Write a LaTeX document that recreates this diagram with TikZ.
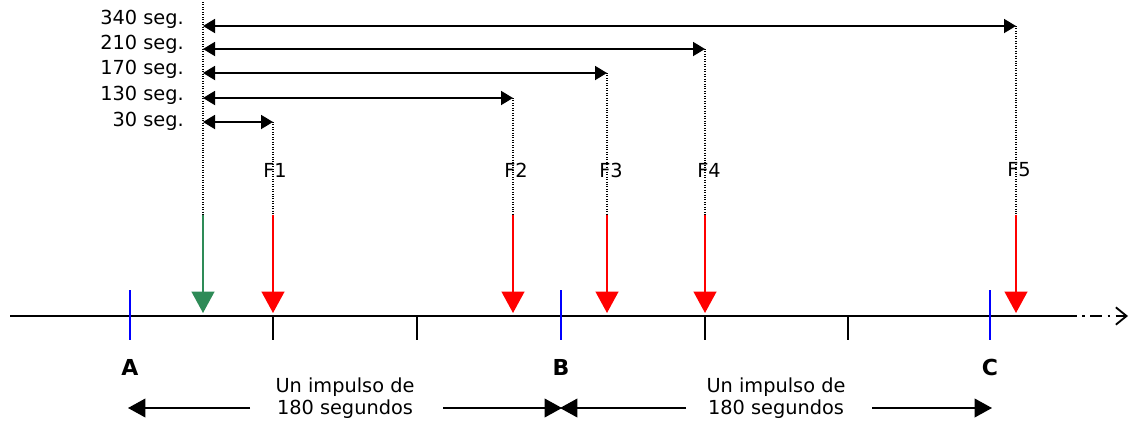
\documentclass[tikz,border=0pt]{standalone}
\usepackage{fontspec}
\setmainfont{DejaVu Sans}
\usetikzlibrary{arrows.meta}
\definecolor{fgreen}{RGB}{46,139,87}
\definecolor{fred}{RGB}{255,0,0}
\definecolor{fblue}{RGB}{0,0,255}
\begin{document}
\begin{tikzpicture}[x=0.75pt,y=-0.75pt,
  lbl/.style={font=\fontsize{14.5}{17}\selectfont, inner sep=0pt},
  seglbl/.style={lbl, anchor=east},
  big/.style={font=\fontsize{16.5}{18}\selectfont\bfseries, inner sep=0pt},
  dur/.style={black, line width=1.4pt, {Triangle[length=9pt,width=10.5pt]}-{Triangle[length=9pt,width=10.5pt]}},
  guide/.style={black, line width=0.9pt, dash pattern=on 0.75pt off 1.1pt},
  force/.style={line width=1.5pt, -{Triangle[length=16pt,width=17pt]}},
  axis/.style={black, line width=1.4pt},
  tick/.style={black, line width=1.4pt},
  btick/.style={fblue, line width=1.3pt},
  span/.style={black, line width=1.2pt, -{Triangle[length=13pt,width=14pt]}}
]
\useasboundingbox (0,0) rectangle (1129,425);

% reference columns
\coordinate (g0) at (203,2);
\coordinate (g1) at (203,215);
\coordinate (gt) at (203,313);
\foreach \n/\x/\y in {1/273/122, 2/513/98, 3/607/73, 4/705/49, 5/1016/26}{
  \coordinate (t\n) at (\x,\y);
  \coordinate (s\n) at (\x,215);
  \coordinate (e\n) at (\x,313);
  \coordinate (l\n) at (203,\y);
}

% dotted guides
\draw[guide] (g0) -- (g1);
\foreach \n in {1,...,5}{ \draw[guide] (t\n) -- (s\n); }

% duration arrows
\foreach \n in {1,...,5}{ \draw[dur] (l\n) -- (t\n); }

% duration labels
\node[seglbl] (d5) at (184,19) {340 seg.};
\node[seglbl] (d4) at (184,44) {210 seg.};
\node[seglbl] (d3) at (184,69) {170 seg.};
\node[seglbl] (d2) at (184,95) {130 seg.};
\node[seglbl] (d1) at (184,121) {30 seg.};

% F labels
\node[lbl] (f1) at (275,170) {F1};
\node[lbl] (f2) at (516,170) {F2};
\node[lbl] (f3) at (611,170) {F3};
\node[lbl] (f4) at (709,170) {F4};
\node[lbl] (f5) at (1019,170) {F5};

% force arrows
\draw[force, fgreen] (g1) -- (gt);
\foreach \n in {1,...,5}{ \draw[force, fred] (s\n) -- (e\n); }

% axis
\coordinate (ax0) at (10,316);
\coordinate (ax1) at (1065,316);
\coordinate (ax2) at (1128,316);
\draw[axis] (ax0) -- (ax1);
\draw[axis, dash pattern=on 9pt off 4pt on 2pt off 4pt, -{Straight Barb[length=8pt,width=13pt]}] (ax1) -- (ax2);

% black ticks
\foreach \x in {273,417,705,848}{ \draw[tick] (\x,316) -- (\x,340); }
% blue ticks
\foreach \x in {130,561,990}{ \draw[btick] (\x,290) -- (\x,340); }

% A B C
\node[big] (A) at (130,367) {A};
\node[big] (B) at (561,367) {B};
\node[big] (C) at (990,367) {C};

% impulse texts
\node[lbl, align=center] (i1) at (345,398) {Un impulso de\\180 segundos};
\node[lbl, align=center] (i2) at (776,398) {Un impulso de\\180 segundos};

\coordinate (pa) at (128,408);
\coordinate (pb1) at (562,408);
\coordinate (pb2) at (560,408);
\coordinate (pc) at (992,408);
\draw[span] (250,408) -- (pa);
\draw[span] (443,408) -- (pb1);
\draw[span] (686,408) -- (pb2);
\draw[span] (872,408) -- (pc);
\end{tikzpicture}
\end{document}
